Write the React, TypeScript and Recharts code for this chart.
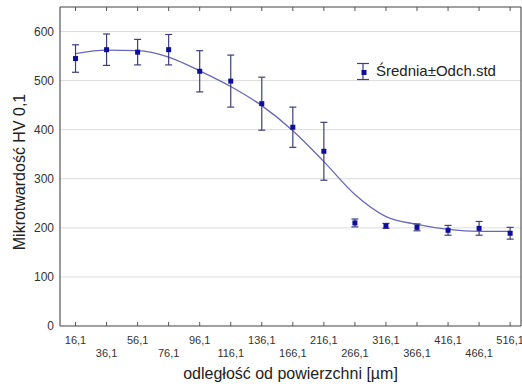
import React from "react";
import {
  ComposedChart,
  Line,
  Scatter,
  ErrorBar,
  XAxis,
  YAxis,
  CartesianGrid,
  Label,
} from "recharts";

// odległość od powierzchni [µm]
const categories = [
  "16,1", "36,1", "56,1", "76,1", "96,1", "116,1", "136,1", "166,1",
  "216,1", "266,1", "316,1", "366,1", "416,1", "466,1", "516,1",
];
const means = [545, 563, 558, 563, 519, 499, 453, 405, 356, 210, 204, 201, 195, 199, 189];
const stds = [28, 32, 26, 31, 42, 53, 54, 41, 59, 8, 5, 7, 10, 14, 12];
// fitted curve read at each category
const fit = [555, 562, 561, 548, 520, 488, 449, 398, 335, 268, 223, 207, 197, 193, 193];
const yTicks = [0, 100, 200, 300, 400, 500, 600];

const data = categories.map((c, i) => ({
  i,
  label: c,
  mean: means[i],
  std: stds[i],
  fit: fit[i],
}));

const FONT = '"Liberation Sans", Arial, sans-serif';
const FRAME = "#555";
const TEXT = "#333";
const xTicks = categories.map((_, i) => i);
const xDomain: [number, number] = [-0.5, 14.35];

function BottomTick(props: any) {
  const { x, y, payload } = props;
  const idx = payload.value as number;
  return (
    <g>
      <line x1={x} x2={x} y1={y} y2={y - 4} stroke={FRAME} />
      <text
        x={x}
        y={y + (idx % 2 ? 31 : 18)}
        textAnchor="middle"
        fontSize={11}
        fill={TEXT}
        fontFamily={FONT}
      >
        {categories[idx]}
      </text>
    </g>
  );
}

function TopTick(props: any) {
  const { x, y } = props;
  return <line x1={x} x2={x} y1={y} y2={y + 4} stroke={FRAME} />;
}

function SquareDot(props: any) {
  const { cx, cy } = props;
  if (cx == null || cy == null) return null;
  return <rect x={cx - 2.5} y={cy - 2.5} width={5} height={5} fill="#0d0d9e" />;
}

export default function App() {
  return (
    <div
      style={{
        position: "absolute",
        left: 0,
        top: 0,
        width: 522,
        height: 386,
        background: "#fff",
        fontFamily: FONT,
      }}
    >
      <ComposedChart
        width={522}
        height={386}
        data={data}
        margin={{ top: 0, right: 0, bottom: 0, left: 0 }}
      >
        <CartesianGrid vertical={false} stroke="#dcdcdc" />
        <XAxis
          dataKey="i"
          type="number"
          domain={xDomain}
          ticks={xTicks}
          height={60}
          tickSize={0}
          tickMargin={0}
          tickLine={false}
          axisLine={{ stroke: FRAME, strokeWidth: 1.2 }}
          tick={<BottomTick />}
          interval={0}
          allowDataOverflow
        >
          <Label
            content={() => (
              <text
                x={290.5}
                y={379}
                textAnchor="middle"
                fontSize={16}
                fill="#222"
                fontFamily={FONT}
              >
                odległość od powierzchni [µm]
              </text>
            )}
          />
        </XAxis>
        <XAxis
          xAxisId="top"
          orientation="top"
          dataKey="i"
          type="number"
          domain={xDomain}
          ticks={xTicks}
          height={7}
          tickSize={0}
          tickMargin={0}
          tickLine={false}
          axisLine={{ stroke: FRAME, strokeWidth: 1.2 }}
          tick={<TopTick />}
          interval={0}
          allowDataOverflow
        />
        <YAxis
          type="number"
          domain={[0, 650]}
          ticks={yTicks}
          width={60}
          tickSize={6}
          tickMargin={0}
          tickLine={false}
          axisLine={{ stroke: FRAME, strokeWidth: 1.2 }}
          tick={{ fontSize: 12, fill: TEXT, fontFamily: FONT }}
          allowDataOverflow
        >
          <Label
            content={() => (
              <text
                x={25}
                y={172}
                transform="rotate(-90 25 172)"
                textAnchor="middle"
                fontSize={16}
                fill="#222"
                fontFamily={FONT}
              >
                Mikrotwardość HV 0,1
              </text>
            )}
          />
        </YAxis>
        <YAxis
          yAxisId="r"
          orientation="right"
          domain={[0, 650]}
          width={1}
          tick={false}
          tickLine={false}
          axisLine={{ stroke: FRAME, strokeWidth: 1.2 }}
        />
        <Line
          dataKey="fit"
          type="monotone"
          stroke="#6767bb"
          strokeWidth={1.3}
          dot={false}
          activeDot={false}
          isAnimationActive={false}
        />
        <Scatter dataKey="mean" shape={<SquareDot />} isAnimationActive={false}>
          <ErrorBar
            dataKey="std"
            direction="y"
            width={3.5}
            stroke="#3f3f78"
            strokeWidth={1.2}
          />
        </Scatter>
      </ComposedChart>
      <div style={{ position: "absolute", left: 354, top: 60 }}>
        <svg width={170} height={24}>
          <line x1={9} x2={9} y1={3.5} y2={19.5} stroke="#3f3f78" strokeWidth={1.2} />
          <line x1={3} x2={15} y1={3.5} y2={3.5} stroke="#3f3f78" strokeWidth={1.2} />
          <line x1={3} x2={15} y1={19.5} y2={19.5} stroke="#3f3f78" strokeWidth={1.2} />
          <rect x={7.5} y={10} width={5} height={5} fill="#0d0d9e" />
          <text x={22} y={16} fontSize={15} fill="#222" fontFamily={FONT}>
            Średnia±Odch.std
          </text>
        </svg>
      </div>
    </div>
  );
}
